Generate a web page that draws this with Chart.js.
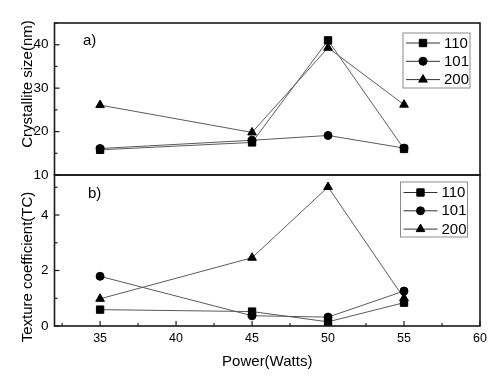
<!DOCTYPE html>
<html><head><meta charset="utf-8">
<script src="https://cdn.jsdelivr.net/npm/chart.js@4/dist/chart.umd.min.js"></script>
<style>
html,body{margin:0;padding:0;background:#fff;}
#wrap{position:relative;width:501px;height:391px;background:#fff;}
canvas{position:absolute;left:0;top:0;}
</style></head><body>
<div id="wrap"><canvas id="c1" width="501" height="391"></canvas><canvas id="c2" width="501" height="391"></canvas></div>
<script>
// ---- data ----
const power = [35, 45, 50, 55];
const seriesNames = ['110', '101', '200'];
const size110 = [15.8, 17.5, 41.0, 16.0];
const size101 = [16.1, 18.0, 19.1, 16.2];
const size200 = [26.1, 19.8, 39.3, 26.2];
const tc110 = [0.59, 0.52, 0.15, 0.84];
const tc101 = [1.79, 0.37, 0.32, 1.26];
const tc200 = [0.98, 2.46, 5.1, 1.0];
const xTicks = [35, 40, 45, 50, 55, 60];
const xMinorTicks = [32.5, 37.5, 42.5, 47.5, 52.5, 57.5];
const sizeTicks = [10, 20, 30, 40];
const sizeMinorTicks = [15, 25, 35, 45];
const tcTicks = [0, 2, 4, 10];
const tcMinorTicks = [1, 3, 5];

const FONT = "'Liberation Sans', Arial, sans-serif";
Chart.defaults.font.family = FONT;
Chart.defaults.color = '#000';

// broken (piecewise) linear axis for the texture coefficient panel
const BREAK = 5, COMP = 0.0882;
function warp(v){ return v <= BREAK ? v : BREAK + (v - BREAK) * COMP; }
function unwarp(w){ return w <= BREAK ? w : BREAK + (w - BREAK) / COMP; }
class BrokenScale extends Chart.LinearScale {
  getPixelForValue(value){
    const s = warp(this.min), e = warp(this.max);
    return this.getPixelForDecimal((warp(value) - s) / (e - s));
  }
  getValueForPixel(pixel){
    const s = warp(this.min), e = warp(this.max);
    return unwarp(s + this.getDecimalForPixel(pixel) * (e - s));
  }
}
BrokenScale.id = 'brokenLinear';
BrokenScale.defaults = Chart.LinearScale.defaults;
Chart.register(BrokenScale);

const styles = [
  {pointStyle: 'rect', r: 5.2},
  {pointStyle: 'circle', r: 4},
  {pointStyle: 'triangle', r: 5}
];
function mkSets(arrs){
  return arrs.map((a, i) => ({
    label: seriesNames[i],
    data: power.map((p, j) => ({x: p, y: a[j]})),
    borderColor: '#5a5a5a',
    borderWidth: 1,
    backgroundColor: '#000',
    pointBackgroundColor: '#000',
    pointBorderColor: '#000',
    pointBorderWidth: 1,
    pointStyle: styles[i].pointStyle,
    pointRadius: styles[i].r,
    tension: 0,
    fill: false
  }));
}

function decoPlugin(o){
  return {
    id: 'deco',
    afterDraw(chart){
      const ctx = chart.ctx, a = chart.chartArea;
      ctx.save();
      // frame
      ctx.strokeStyle = '#1a1a1a';
      ctx.lineWidth = 1.6;
      ctx.strokeRect(a.left, a.top, a.right - a.left, a.bottom - a.top);
      // y ticks (inward)
      ctx.lineWidth = 1.2;
      const ys = chart.scales.y;
      o.yMajor.forEach(v => { const p = ys.getPixelForValue(v); ctx.beginPath(); ctx.moveTo(a.left, p); ctx.lineTo(a.left + 5, p); ctx.stroke(); });
      o.yMinor.forEach(v => { const p = ys.getPixelForValue(v); ctx.beginPath(); ctx.moveTo(a.left, p); ctx.lineTo(a.left + 3, p); ctx.stroke(); });
      if (o.xTicksOn) {
        const xs = chart.scales.x;
        xTicks.forEach(v => { const p = xs.getPixelForValue(v); ctx.beginPath(); ctx.moveTo(p, a.bottom); ctx.lineTo(p, a.bottom - 5); ctx.stroke(); });
        xMinorTicks.forEach(v => { const p = xs.getPixelForValue(v); ctx.beginPath(); ctx.moveTo(p, a.bottom); ctx.lineTo(p, a.bottom - 3); ctx.stroke(); });
      }
      // panel tag
      ctx.fillStyle = '#000';
      ctx.font = '15px ' + FONT;
      ctx.textAlign = 'left';
      ctx.textBaseline = 'middle';
      ctx.fillText(o.tag, o.tagX, o.tagY);
      // y title
      ctx.save();
      ctx.translate(o.titleX, o.titleY);
      ctx.rotate(-Math.PI / 2);
      ctx.textAlign = 'center';
      ctx.fillText(o.title, 0, 0);
      ctx.restore();
      // legend
      const L = o.legend;
      ctx.strokeStyle = '#8a8a8a';
      ctx.lineWidth = 1;
      ctx.strokeRect(L.x, L.y, L.w, L.h);
      chart.data.datasets.forEach((ds, i) => {
        const yy = L.y + L.first + i * L.step;
        ctx.strokeStyle = '#333';
        ctx.lineWidth = 1;
        ctx.beginPath(); ctx.moveTo(L.x + 3, yy); ctx.lineTo(L.x + 37, yy); ctx.stroke();
        ctx.fillStyle = '#000'; ctx.strokeStyle = '#000';
        Chart.helpers.drawPoint(ctx, {pointStyle: ds.pointStyle, radius: ds.pointRadius, rotation: 0, borderWidth: 1}, L.x + 20, yy);
        ctx.fillStyle = '#000';
        ctx.font = '15px ' + FONT;
        ctx.textAlign = 'left';
        ctx.textBaseline = 'middle';
        ctx.fillText(ds.label, L.x + 41, yy + 0.5);
      });
      ctx.restore();
    }
  };
}

const commonY = {
  grid: {display: false, drawTicks: false},
  border: {display: false},
  afterFit(s){ s.width = 54.5; }
};

new Chart(document.getElementById('c1'), {
  type: 'line',
  data: {datasets: mkSets([size110, size101, size200])},
  options: {
    responsive: false, animation: false,
    layout: {padding: {left: 0, top: 23, right: 21, bottom: 216}},
    plugins: {legend: {display: false}, tooltip: {enabled: false}},
    scales: {
      x: {type: 'linear', min: 32, max: 60, display: false},
      y: Object.assign({}, commonY, {
        type: 'linear', min: 10, max: 45,
        afterBuildTicks(s){ s.ticks = sizeTicks.filter(v => v > 10).map(v => ({value: v})); },
        ticks: {font: {size: 13.5}, padding: 6}
      })
    }
  },
  plugins: [decoPlugin({
    yMajor: sizeTicks, yMinor: sizeMinorTicks, xTicksOn: false,
    tag: 'a)', tagX: 83, tagY: 41,
    title: 'Crystallite size(nm)', titleX: 28, titleY: 84,
    legend: {x: 403, y: 33, w: 67, h: 55, first: 10, step: 18.3}
  })]
});

new Chart(document.getElementById('c2'), {
  type: 'line',
  data: {datasets: mkSets([tc110, tc101, tc200])},
  options: {
    responsive: false, animation: false,
    layout: {padding: {left: 0, top: 175, right: 21, bottom: 0}},
    plugins: {legend: {display: false}, tooltip: {enabled: false}},
    scales: {
      x: {
        type: 'linear', min: 32, max: 60,
        grid: {display: false, drawTicks: false},
        border: {display: false},
        afterBuildTicks(s){ s.ticks = xTicks.map(v => ({value: v})); },
        afterFit(s){ s.height = 65; },
        ticks: {font: {size: 12.5}, padding: 5},
        title: {display: true, text: 'Power(Watts)', font: {size: 15}, padding: {top: 0, bottom: 20}}
      },
      y: Object.assign({}, commonY, {
        type: 'brokenLinear', min: 0, max: 10,
        afterBuildTicks(s){ s.ticks = tcTicks.map(v => ({value: v})); },
        ticks: {font: {size: 13.5}, padding: 6}
      })
    }
  },
  plugins: [decoPlugin({
    yMajor: tcTicks, yMinor: tcMinorTicks, xTicksOn: true,
    tag: 'b)', tagX: 88, tagY: 194,
    title: 'Texture coefficient(TC)', titleX: 28, titleY: 267,
    legend: {x: 400.5, y: 182, w: 67, h: 55, first: 10.5, step: 18.3}
  })]
});
</script>
</body></html>
